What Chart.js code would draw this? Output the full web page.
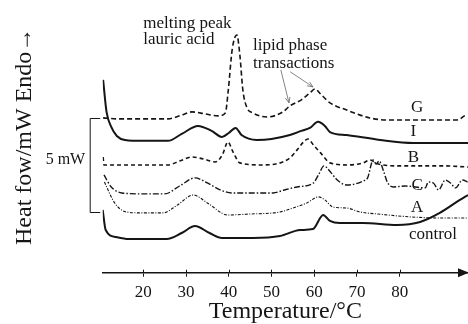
<!DOCTYPE html>
<html>
<head>
<meta charset="utf-8">
<script src="https://cdn.jsdelivr.net/npm/chart.js@4.4.1/dist/chart.umd.min.js"></script>
<style>
  html, body { margin: 0; padding: 0; background: #fff; }
  #wrap { width: 468px; height: 324px; }
</style>
</head>
<body>
<div id="wrap"><canvas id="dsc" width="468" height="324"></canvas></div>
<script>
// temperatures (°C) and heat flow (mW, offset stacked)
const tempG = [10.6, 14, 20, 25.8, 28.5, 31.4, 34.5, 37.5, 39.2, 39.9, 40.8, 41.9, 42.6, 43.3, 44.2, 45.7, 49, 52.7, 54.3, 57, 59, 60.2, 61.5, 63.7, 67.6, 73, 77, 85, 93.4, 95.5];
const heatG = [8.23, 8.18, 8.18, 8.18, 8.34, 8.55, 8.44, 8.34, 8.49, 9.72, 11.85, 12.64, 11.58, 9.72, 8.81, 8.49, 8.28, 8.55, 8.87, 9.19, 9.56, 9.77, 9.50, 9.03, 8.65, 8.23, 8.12, 8.12, 8.12, 8.39];

const tempI = [10.6, 11.4, 12.5, 13.8, 15.7, 20, 25.8, 29, 32.8, 36, 38.4, 40, 41.6, 43, 46.6, 50, 54.3, 57, 59, 60.9, 62.5, 63.7, 67.6, 75.4, 83.2, 90, 96];
const heatI = [10.25, 8.55, 7.75, 7.27, 7.06, 7.01, 7.01, 7.38, 7.80, 7.54, 7.22, 7.43, 7.70, 7.32, 7.06, 7.11, 7.32, 7.54, 7.70, 8.02, 7.80, 7.48, 7.32, 7.06, 6.90, 6.90, 6.90];

const tempB = [10.6, 10.8, 14, 20, 25.8, 28.5, 31.4, 34, 36.8, 38.5, 39.8, 41, 42.6, 47.3, 51, 54.3, 56, 57.5, 58.5, 60, 61.5, 63.7, 68, 71.5, 73, 75, 80, 90, 96];
const heatB = [6.15, 5.73, 5.73, 5.73, 5.73, 5.94, 6.15, 6.05, 5.89, 6.26, 6.95, 6.42, 5.84, 5.73, 5.78, 6.10, 6.53, 6.95, 7.11, 6.74, 6.37, 5.84, 5.73, 5.84, 5.99, 5.78, 5.68, 5.68, 5.62];

const tempC = [10.8, 12.5, 15, 20, 25, 28.5, 32.1, 35, 38, 40.8, 45, 50.4, 53, 56, 59.8, 61, 62.3, 63.8, 65.4, 67.7, 71.5, 72.5, 73.8, 74.5, 75.2, 76.3, 77.1, 78.5, 81.3, 86, 86.7, 87.9, 89.1, 90.7, 91.9, 93.1, 94.7, 95.9];
const heatC = [5.20, 4.56, 4.24, 4.19, 4.19, 4.61, 5.04, 4.77, 4.40, 4.24, 4.24, 4.24, 4.40, 4.56, 4.77, 5.20, 5.68, 5.36, 4.93, 4.66, 4.88, 5.04, 5.99, 5.78, 5.94, 5.36, 4.82, 4.56, 4.61, 4.51, 4.82, 4.77, 4.40, 4.93, 4.77, 4.51, 4.93, 4.82];

const tempA = [10.9, 13.3, 16, 20, 24.6, 28, 31.7, 35, 39.8, 45, 52, 55, 58.3, 61, 62.5, 64.4, 67.6, 70.7, 75, 83, 90, 96];
const heatA = [4.82, 3.71, 3.23, 3.18, 3.18, 3.60, 4.13, 3.71, 3.07, 3.12, 3.23, 3.44, 3.71, 4.03, 3.87, 3.49, 3.44, 3.23, 3.12, 2.96, 2.91, 2.91];

const tempCtrl = [10.5, 11.2, 13.6, 16.6, 20, 25.5, 29, 32.1, 35.5, 38.4, 45.7, 52, 56.7, 59.7, 62.1, 63.7, 66, 71.4, 79.4, 84.8, 89.4, 94.1, 96];
const heatCtrl = [3.34, 2.27, 1.90, 1.79, 1.79, 1.79, 2.11, 2.48, 2.11, 1.85, 1.85, 1.95, 2.27, 2.32, 3.07, 2.75, 2.64, 2.64, 2.54, 2.70, 3.18, 3.87, 4.13];

const curveNames = ['G', 'I', 'B', 'C', 'A', 'control'];
const labelTemp = [84.1, 83.2, 83.2, 84.1, 84.1, 87.8];
const labelHeat = [8.76, 7.48, 6.10, 4.66, 3.44, 2.01];

const tickTemps = [20, 30, 40, 50, 60, 70, 80];
const scaleBar = [3.2, 8.2]; // 5 mW

const serif = '"Liberation Serif", "Times New Roman", serif';
const ink = '#151515';

function pts(t, h) {
    return t.map((v, i) => ({ x: v, y: h[i] }));
}

function curve(t, h, dash, width) {
    return {
        data: pts(t, h),
        borderColor: ink,
        borderWidth: width,
        borderDash: dash,
        pointRadius: 0,
        fill: false,
        cubicInterpolationMode: 'monotone'
    };
}

const dscdata = {
    datasets: [
        curve(tempG, heatG, [5, 3], 1.6),
        curve(tempI, heatI, [], 2),
        curve(tempB, heatB, [4, 3], 1.6),
        curve(tempC, heatC, [6, 2, 1.5, 2], 1.4),
        curve(tempA, heatA, [3, 1.5, 1, 1.5], 1.1),
        curve(tempCtrl, heatCtrl, [], 2)
    ]
};

function arrow(ctx, x0, y0, x1, y1) {
    const a = Math.atan2(y1 - y0, x1 - x0);
    ctx.beginPath();
    ctx.moveTo(x0, y0);
    ctx.lineTo(x1, y1);
    ctx.moveTo(x1 - 6 * Math.cos(a - 0.4), y1 - 6 * Math.sin(a - 0.4));
    ctx.lineTo(x1, y1);
    ctx.lineTo(x1 - 6 * Math.cos(a + 0.4), y1 - 6 * Math.sin(a + 0.4));
    ctx.stroke();
}

const decor = {
    id: 'decor',
    afterDraw(chart) {
        const { ctx, chartArea, scales: { x, y } } = chart;
        ctx.save();
        ctx.fillStyle = ink;
        ctx.strokeStyle = ink;

        // arrow head of temperature axis, ticks crossing the line
        const ay = chartArea.bottom;
        ctx.beginPath();
        ctx.moveTo(chartArea.right + 1, ay);
        ctx.lineTo(chartArea.right - 10, ay - 4.5);
        ctx.lineTo(chartArea.right - 10, ay + 4.5);
        ctx.closePath();
        ctx.fill();
        ctx.lineWidth = 1;
        tickTemps.forEach(t => {
            const px = Math.round(x.getPixelForValue(t)) + 0.5;
            ctx.beginPath();
            ctx.moveTo(px, ay - 3);
            ctx.lineTo(px, ay);
            ctx.stroke();
        });

        // 5 mW bracket
        const bx = chartArea.left - 12.5;
        const b0 = y.getPixelForValue(scaleBar[0]);
        const b1 = y.getPixelForValue(scaleBar[1]);
        ctx.beginPath();
        ctx.moveTo(bx + 10, b1);
        ctx.lineTo(bx, b1);
        ctx.lineTo(bx, b0);
        ctx.lineTo(bx + 10, b0);
        ctx.stroke();
        ctx.font = '16px ' + serif;
        ctx.textAlign = 'right';
        ctx.textBaseline = 'middle';
        ctx.fillText('5 mW', bx - 5, (b0 + b1) / 2 - 6);

        // curve names
        ctx.font = '17px ' + serif;
        ctx.textAlign = 'center';
        curveNames.forEach((n, i) => {
            ctx.fillText(n, x.getPixelForValue(labelTemp[i]), y.getPixelForValue(labelHeat[i]));
        });

        // notes
        ctx.textAlign = 'left';
        ctx.fillText('melting peak', x.getPixelForValue(20), y.getPixelForValue(13.24));
        ctx.fillText('lauric acid', x.getPixelForValue(20), y.getPixelForValue(12.40));
        ctx.fillText('lipid phase', x.getPixelForValue(45.7), y.getPixelForValue(12.08));
        ctx.fillText('transactions', x.getPixelForValue(45.7), y.getPixelForValue(11.13));

        ctx.strokeStyle = '#666';
        ctx.lineWidth = 0.8;
        arrow(ctx, x.getPixelForValue(52.2), y.getPixelForValue(10.78), x.getPixelForValue(54.1), y.getPixelForValue(9.03));
        arrow(ctx, x.getPixelForValue(54.4), y.getPixelForValue(10.68), x.getPixelForValue(59.7), y.getPixelForValue(9.88));
        ctx.restore();
    }
};

const dscconfig = {
    type: 'line',
    data: dscdata,
    options: {
        responsive: false,
        animation: false,
        layout: { padding: 0 },
        scales: {
            x: {
                type: 'linear',
                min: 10.5,
                max: 96,
                afterBuildTicks: (s) => { s.ticks = tickTemps.map(v => ({ value: v })); },
                afterFit: (s) => { s.height = 51.3; },
                border: { display: true, color: ink, width: 1.5 },
                grid: { drawOnChartArea: false, drawTicks: true, tickLength: 4, color: ink, lineWidth: 1 },
                ticks: { color: ink, padding: 6, maxRotation: 0, font: { family: serif, size: 17 } },
                title: {
                    display: true,
                    text: 'Temperature/°C',
                    color: ink,
                    padding: { top: 0, bottom: 0 },
                    font: { family: serif, size: 24, lineHeight: 1 }
                }
            },
            y: {
                min: 0,
                max: 14.5,
                afterFit: (s) => { s.width = 102.7; },
                border: { display: false },
                grid: { display: false },
                ticks: { display: false },
                title: {
                    display: true,
                    text: 'Heat fow/mW Endo→',
                    color: ink,
                    padding: { top: 13, bottom: 0 },
                    font: { family: serif, size: 24, lineHeight: 1 }
                }
            }
        },
        plugins: {
            legend: { display: false },
            tooltip: { enabled: false }
        }
    },
    plugins: [decor]
};

const dscchart = new Chart(
    document.getElementById('dsc'),
    dscconfig
);
</script>
</body>
</html>
